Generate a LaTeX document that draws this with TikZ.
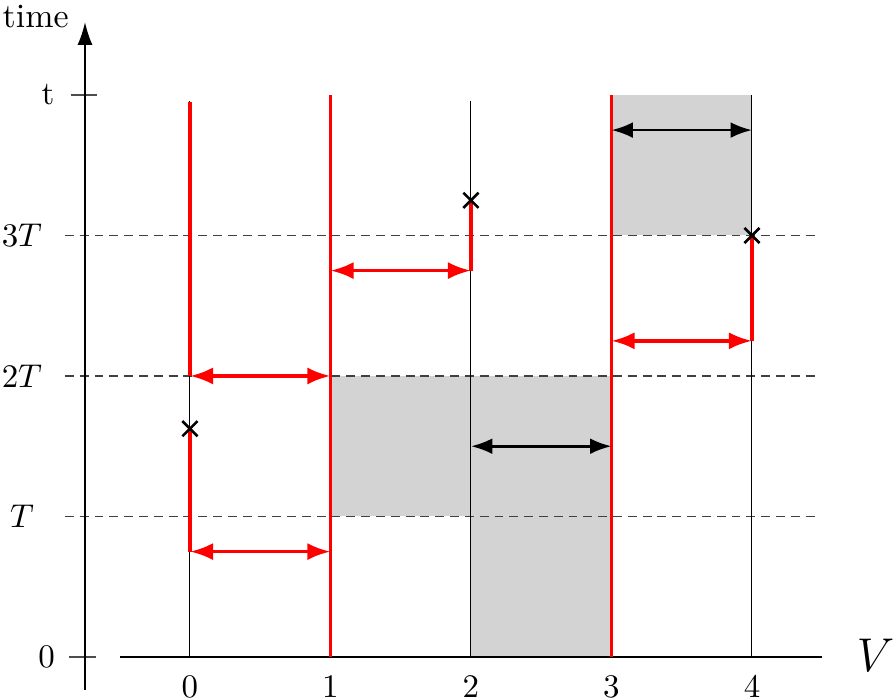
\documentclass[tikz,border=0pt]{standalone}
\usetikzlibrary{arrows.meta}
\definecolor{regiongray}{HTML}{D3D3D3}
\tikzset{
  axisline/.style={line width=0.65pt, black},
  tickline/.style={line width=0.35pt, black!70},
  guide/.style={line width=0.35pt, black!75, dash pattern=on 2.7pt off 1.8pt},
  thinline/.style={line width=0.3pt, black},
  redline/.style={line width=1.1pt, red},
  redarrow/.style={line width=1.1pt, red, {Latex[length=7pt,width=5.2pt]}-{Latex[length=7pt,width=5.2pt]}},
  blackarrow/.style={line width=0.8pt, black, {Latex[length=6.5pt,width=4.8pt]}-{Latex[length=6.5pt,width=4.8pt]}},
  crossmark/.style={line width=0.8pt, black},
  ticklabel/.style={inner sep=0pt}
}
\begin{document}
\begin{tikzpicture}[x=1.5cm,y=1.5cm]
\useasboundingbox (-1.352,-0.306) rectangle (5.025,4.676);
% shaded regions
\fill[regiongray] (1,1) rectangle (3,2);
\fill[regiongray] (2,0) rectangle (3,1);
\fill[regiongray] (3,3) rectangle (4,4);
% dashed guides
\foreach \y in {1,2,3} \draw[guide] (-0.89,\y) -- (4.45,\y);
% ticks on time axis
\draw[tickline] (-0.86,0) -- (-0.67,0);
\draw[tickline] (-0.85,4) -- (-0.66,4);
% thin vertical lines
\draw[thinline] (0,0) -- (0,3.96);
\draw[thinline] (2,0) -- (2,3.96);
\draw[thinline] (4,0) -- (4,4);
% axes
\coordinate (tb) at (-0.747,-0.235);
\coordinate (tt) at (-0.747,4.52);
\draw[axisline,-{Latex[length=7pt,width=4.6pt]}] (tb) -- (tt);
\coordinate (vl) at (-0.498,0);
\coordinate (vr) at (4.5,0);
\draw[axisline] (vl) -- (vr);
% labels
\node[inner sep=0pt] (ltime) at (-1.098,4.56) {\fontsize{10.3}{12}\selectfont time};
\node[ticklabel] (lt) at (-1.01,4.0) {t};
\node[ticklabel] (l3T) at (-1.196,3.0) {$3T$};
\node[ticklabel] (l2T) at (-1.196,2.0) {$2T$};
\node[ticklabel] (l1T) at (-1.196,1.0) {$T$};
\node[ticklabel] (l0) at (-1.02,0.0) {0};
\node (lV) at (4.88,0.01) {\Large $V$};
\foreach \i in {0,...,4} \node[ticklabel] (x\i) at (\i,-0.212) {\i};
% red vertical lines
\draw[redline] (1,0) -- (1,4);
\draw[redline] (3,0) -- (3,4);
\coordinate (a0) at (0,0.75);
\coordinate (a1) at (1,0.75);
\coordinate (c0) at (0,1.625);
\coordinate (b0) at (0,2);
\coordinate (b1) at (1,2);
\coordinate (top0) at (0,3.95);
\draw[redline] (a0) -- (c0);
\draw[redline] (b0) -- (top0);
\coordinate (d1) at (1,2.75);
\coordinate (d2) at (2,2.75);
\coordinate (c2) at (2,3.25);
\draw[redline] (d2) -- (c2);
\coordinate (e3) at (3,2.25);
\coordinate (e4) at (4,2.25);
\coordinate (c4) at (4,3);
\draw[redline] (e4) -- (c4);
% red arrows
\draw[redarrow] (a0) -- (a1);
\draw[redarrow] (b0) -- (b1);
\draw[redarrow] (d1) -- (d2);
\draw[redarrow] (e3) -- (e4);
% black arrows
\coordinate (f2) at (2,1.5);
\coordinate (f3) at (3,1.5);
\draw[blackarrow] (f2) -- (f3);
\coordinate (g3) at (3,3.75);
\coordinate (g4) at (4,3.75);
\draw[blackarrow] (g3) -- (g4);
% crosses
\foreach \c in {c0,c2,c4}
  \draw[crossmark] ([shift={(-2.3pt,-2.3pt)}]\c) -- ([shift={(2.3pt,2.3pt)}]\c)
                   ([shift={(-2.3pt,2.3pt)}]\c) -- ([shift={(2.3pt,-2.3pt)}]\c);
\end{tikzpicture}
\end{document}
